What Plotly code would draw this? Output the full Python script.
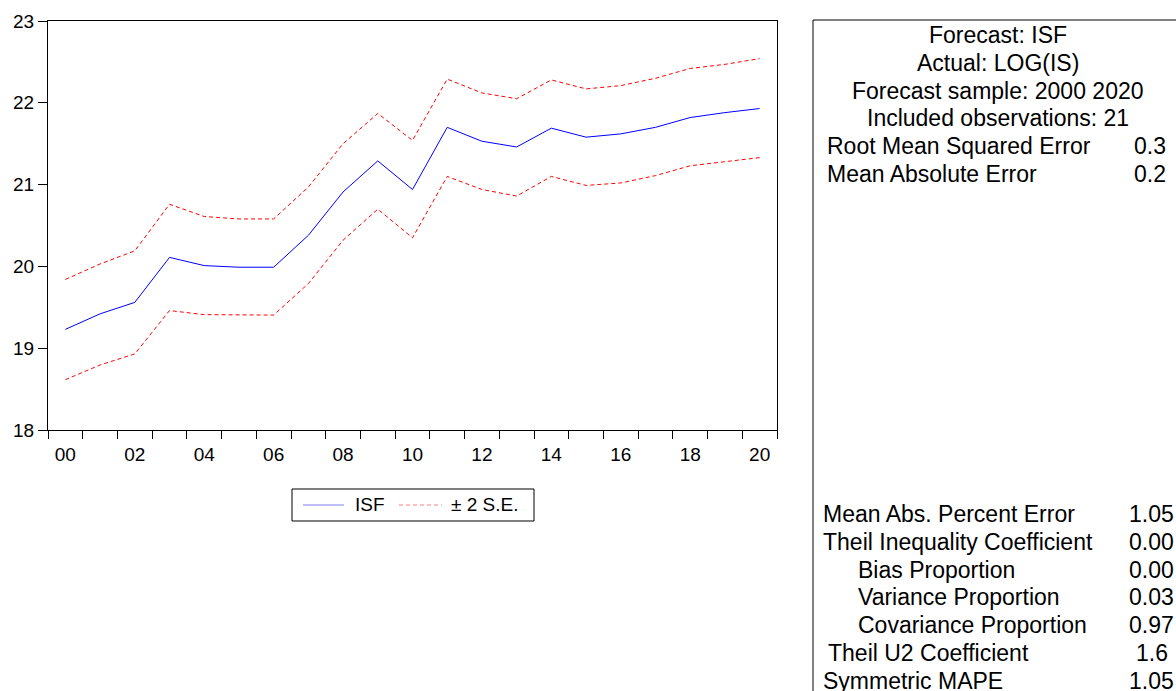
import plotly.graph_objects as go

years = list(range(2000, 2021))
isf = [19.23, 19.42, 19.56, 20.11, 20.01, 19.99, 19.99, 20.38, 20.91, 21.29,
       20.94, 21.70, 21.53, 21.46, 21.69, 21.58, 21.62, 21.70, 21.82, 21.88, 21.93]
upper = [19.84, 20.03, 20.19, 20.76, 20.61, 20.58, 20.58, 20.97, 21.50, 21.87,
         21.54, 22.29, 22.12, 22.05, 22.28, 22.17, 22.21, 22.30, 22.42, 22.47, 22.54]
lower = [18.615, 18.795, 18.93, 19.46, 19.41, 19.405, 19.405, 19.79, 20.32, 20.70,
         20.35, 21.10, 20.94, 20.86, 21.10, 20.99, 21.02, 21.11, 21.23, 21.28, 21.33]

tick_years = list(range(2000, 2021, 2))
tick_text = [f"{y % 100:02d}" for y in tick_years]
y_ticks = [18, 19, 20, 21, 22, 23]

legend_labels = ["ISF", "± 2 S.E."]

header_lines = ["Forecast: ISF", "Actual: LOG(IS)", "Forecast sample: 2000 2020",
                "Included observations: 21"]
top_stats = [("Root Mean Squared Error", "0.3"), ("Mean Absolute Error", "0.2")]
bottom_stats = [("Mean Abs. Percent Error", "1.05"),
                ("Theil Inequality Coefficient", "0.00"),
                ("Bias Proportion", "0.00"),
                ("Variance Proportion", "0.03"),
                ("Covariance Proportion", "0.97"),
                ("Theil U2 Coefficient", "1.6"),
                ("Symmetric MAPE", "1.05")]
bottom_indent = [821, 821, 856, 856, 856, 826, 821]
bottom_val_right = [1176, 1176, 1176, 1176, 1176, 1170, 1176]

W, H = 1176, 691
L, R, T, B = 48, 777, 21, 430
FONT = "Liberation Sans, Arial, sans-serif"
PANEL_SIZE = 23


def px(xp):
    return (xp - L) / (R - L)


def py(yp):
    return (B - yp) / (B - T)


fig = go.Figure()
fig.add_trace(go.Scatter(x=years, y=isf, mode="lines", name=legend_labels[0],
                         line=dict(color="#0000ff", width=1)))
fig.add_trace(go.Scatter(x=years, y=upper, mode="lines", name=legend_labels[1],
                         line=dict(color="#ff0000", width=1, dash="4px,3px")))
fig.add_trace(go.Scatter(x=years, y=lower, mode="lines", name=legend_labels[1],
                         line=dict(color="#ff0000", width=1, dash="4px,3px")))


def ann(xp, yp, text, anchor, size):
    return dict(x=px(xp), y=py(yp), xref="paper", yref="paper", text=text,
                showarrow=False, xanchor=anchor, yanchor="middle",
                font=dict(size=size, color="black", family=FONT))


annotations = []
for i, t in enumerate(header_lines):
    annotations.append(ann(998, 35 + i * 27.8, t, "center", PANEL_SIZE))
for i, (lab, val) in enumerate(top_stats):
    yy = 146 + i * 28
    annotations.append(ann(825, yy, lab, "left", PANEL_SIZE))
    annotations.append(ann(1168, yy, val, "right", PANEL_SIZE))
for i, (lab, val) in enumerate(bottom_stats):
    yy = 514 + i * 27.8
    annotations.append(ann(bottom_indent[i], yy, lab, "left", PANEL_SIZE))
    annotations.append(ann(bottom_val_right[i], yy, val, "right", PANEL_SIZE))

# legend (drawn manually to match layout)
annotations.append(ann(353, 505, legend_labels[0], "left", 19))
annotations.append(ann(449, 505, legend_labels[1], "left", 19))

shapes = [
    dict(type="line", xref="paper", yref="paper", x0=px(813), x1=px(1180),
         y0=py(20), y1=py(20), line=dict(color="black", width=1)),
    dict(type="line", xref="paper", yref="paper", x0=px(813), x1=px(813),
         y0=py(20), y1=py(700), line=dict(color="black", width=1)),
    dict(type="rect", xref="paper", yref="paper", x0=px(292), x1=px(534),
         y0=py(489), y1=py(521), line=dict(color="black", width=1)),
    dict(type="line", xref="paper", yref="paper", x0=px(303), x1=px(344),
         y0=py(505), y1=py(505), line=dict(color="#7f7fff", width=1)),
    dict(type="line", xref="paper", yref="paper", x0=px(399), x1=px(442),
         y0=py(505), y1=py(505), line=dict(color="#ff7f7f", width=1, dash="4px,3px")),
]

fig.update_layout(
    width=W, height=H,
    margin=dict(l=L, r=W - R, t=T, b=H - B, pad=0),
    paper_bgcolor="white", plot_bgcolor="white",
    font=dict(family=FONT, size=19, color="black"),
    showlegend=False,
    annotations=annotations,
    shapes=shapes,
)
fig.update_xaxes(range=[1999.5, 2020.5], tickvals=tick_years, ticktext=tick_text,
                 ticks="", showgrid=False, zeroline=False, ticklabelstandoff=7,
                 showline=True, linecolor="black", linewidth=1, mirror=True,
                 tickfont=dict(size=19, family=FONT),
                 minor=dict(tick0=1999.5, dtick=1, ticks="outside", ticklen=8,
                            tickcolor="black", tickwidth=1, showgrid=False))
fig.update_yaxes(range=[18, 23], tickvals=y_ticks, ticks="outside", ticklen=9,
                 tickcolor="black", showgrid=False, zeroline=False,
                 showline=True, linecolor="black", linewidth=1, mirror=True,
                 tickfont=dict(size=19, family=FONT))

fig.write_html("out.html", config={"displayModeBar": False},
               post_script="document.body.style.margin='0';"
                           "document.body.style.overflow='hidden';")
